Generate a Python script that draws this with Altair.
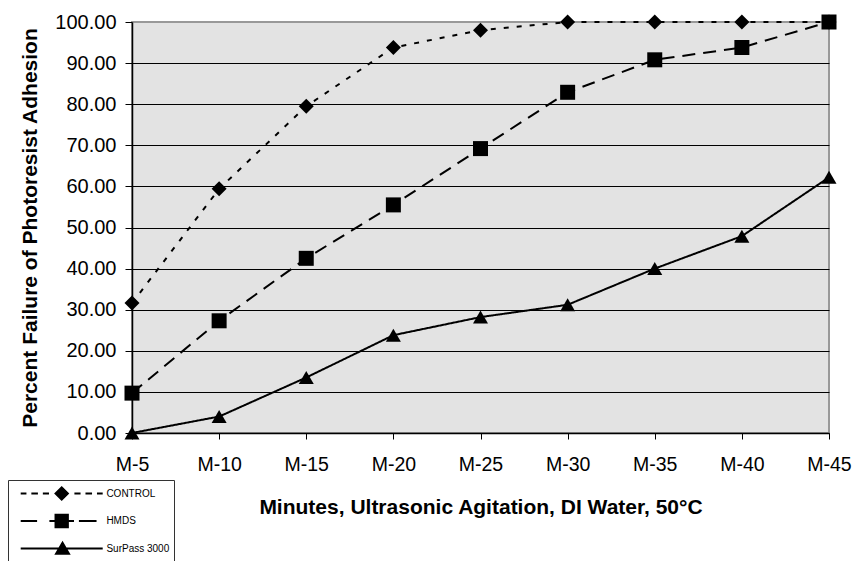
import altair as alt
import pandas as pd

categories = ["M-5", "M-10", "M-15", "M-20", "M-25", "M-30", "M-35", "M-40", "M-45"]
series_names = ["CONTROL", "HMDS", "SurPass 3000"]
control = [31.6, 59.4, 79.5, 93.8, 98.0, 100.0, 100.0, 100.0, 100.0]
hmds = [9.7, 27.3, 42.5, 55.5, 69.2, 82.9, 90.8, 93.8, 100.0]
surpass = [0.0, 4.0, 13.5, 23.8, 28.2, 31.2, 40.0, 47.9, 62.2]
y_ticks = [0, 10, 20, 30, 40, 50, 60, 70, 80, 90, 100]

rows = []
for name, vals in zip(series_names, [control, hmds, surpass]):
    for c, v in zip(categories, vals):
        rows.append({"minute": c, "value": v, "series": name})
df = pd.DataFrame(rows)

FONT = "Liberation Sans"

x_enc = alt.X(
    "minute:O",
    sort=categories,
    scale=alt.Scale(type="point", padding=0),
    axis=alt.Axis(
        title="Minutes, Ultrasonic Agitation, DI Water, 50°C",
        labelAngle=0,
        labelFontSize=19.5,
        labelFont=FONT,
        labelColor="black",
        labelPadding=16,
        tickSize=6,
        tickColor="black",
        domainColor="black",
        domainWidth=1.5,
        titleFontSize=21,
        titleFont=FONT,
        titleFontWeight="bold",
        titleColor="black",
        titlePadding=23,
        grid=False,
    ),
)
y_enc = alt.Y(
    "value:Q",
    scale=alt.Scale(domain=[0, 100], nice=False),
    axis=alt.Axis(
        title="Percent Failure of Photoresist Adhesion",
        values=y_ticks,
        format=".2f",
        labelFontSize=20,
        labelFont=FONT,
        labelColor="black",
        labelPadding=9,
        tickSize=7,
        tickColor="black",
        domainColor="black",
        domainWidth=1.5,
        titleFontSize=21,
        titleFont=FONT,
        titleFontWeight="bold",
        titleColor="black",
        titlePadding=14,
        grid=True,
        gridColor={"condition": {"test": "datum.value === 100", "value": "#999999"}, "value": "black"},
        gridWidth=1,
    ),
)

dash_scale = alt.Scale(domain=series_names, range=[[5, 8], [13, 8], [1, 0]])

lines = alt.Chart(df).mark_line(color="black", strokeWidth=2).encode(
    x=x_enc,
    y=y_enc,
    strokeDash=alt.StrokeDash("series:N", scale=dash_scale, legend=None),
)

points = alt.Chart(df).mark_point(filled=True, color="black", opacity=1, size=225).encode(
    x=x_enc,
    y=y_enc,
    shape=alt.Shape(
        "series:N",
        scale=alt.Scale(domain=series_names, range=["diamond", "square", "triangle-up"]),
        legend=None,
    ),
)


def seg(a, b, t=0.026):
    return f"M{a},{-t}L{b},{-t}L{b},{t}L{a},{t}Z"


legend_paths = [
    seg(-1, -0.86) + seg(-0.74, -0.58) + seg(-0.46, -0.31)
    + seg(0.31, 0.46) + seg(0.58, 0.74) + seg(0.86, 1)
    + "M0,-0.185L0.185,0L0,0.185L-0.185,0Z",
    seg(-1, -0.6) + seg(-0.3, 0.3) + seg(0.42, 0.85)
    + "M-0.175,-0.175L0.175,-0.175L0.175,0.175L-0.175,0.175Z",
    seg(-1, 1) + "M0.02,-0.19L0.22,0.15L-0.18,0.15Z",
]

legend_layer = alt.Chart(df).mark_point(
    filled=True, color="black", strokeWidth=0, opacity=0
).encode(
    x=x_enc,
    y=y_enc,
    shape=alt.Shape(
        "series:N",
        scale=alt.Scale(domain=series_names, range=legend_paths),
        legend=alt.Legend(
            title=None,
            orient="none",
            legendX=-124,
            legendY=458,
            symbolSize=6724,
            symbolStrokeWidth=0,
            symbolFillColor="black",
            symbolOpacity=1,
            clipHeight=19,
            rowPadding=8.5,
            padding=4,
            symbolOffset=8.7,
            labelOffset=3.7,
            labelFont=FONT,
            labelFontSize=10,
            labelColor="black",
            strokeColor="#333333",
            fillColor="white",
        ),
    ),
)

chart = (
    alt.layer(lines, points, legend_layer)
    .resolve_scale(shape="independent")
    .properties(
        width=697,
        height=411,
        autosize="none",
        padding={"left": 124, "top": 14, "right": 23, "bottom": 128},
        background="white",
    )
    .configure_view(fill="#e3e3e3", stroke="#999999", strokeWidth=2)
)

chart.save("out.html", embed_options={"renderer": "svg", "actions": False})
